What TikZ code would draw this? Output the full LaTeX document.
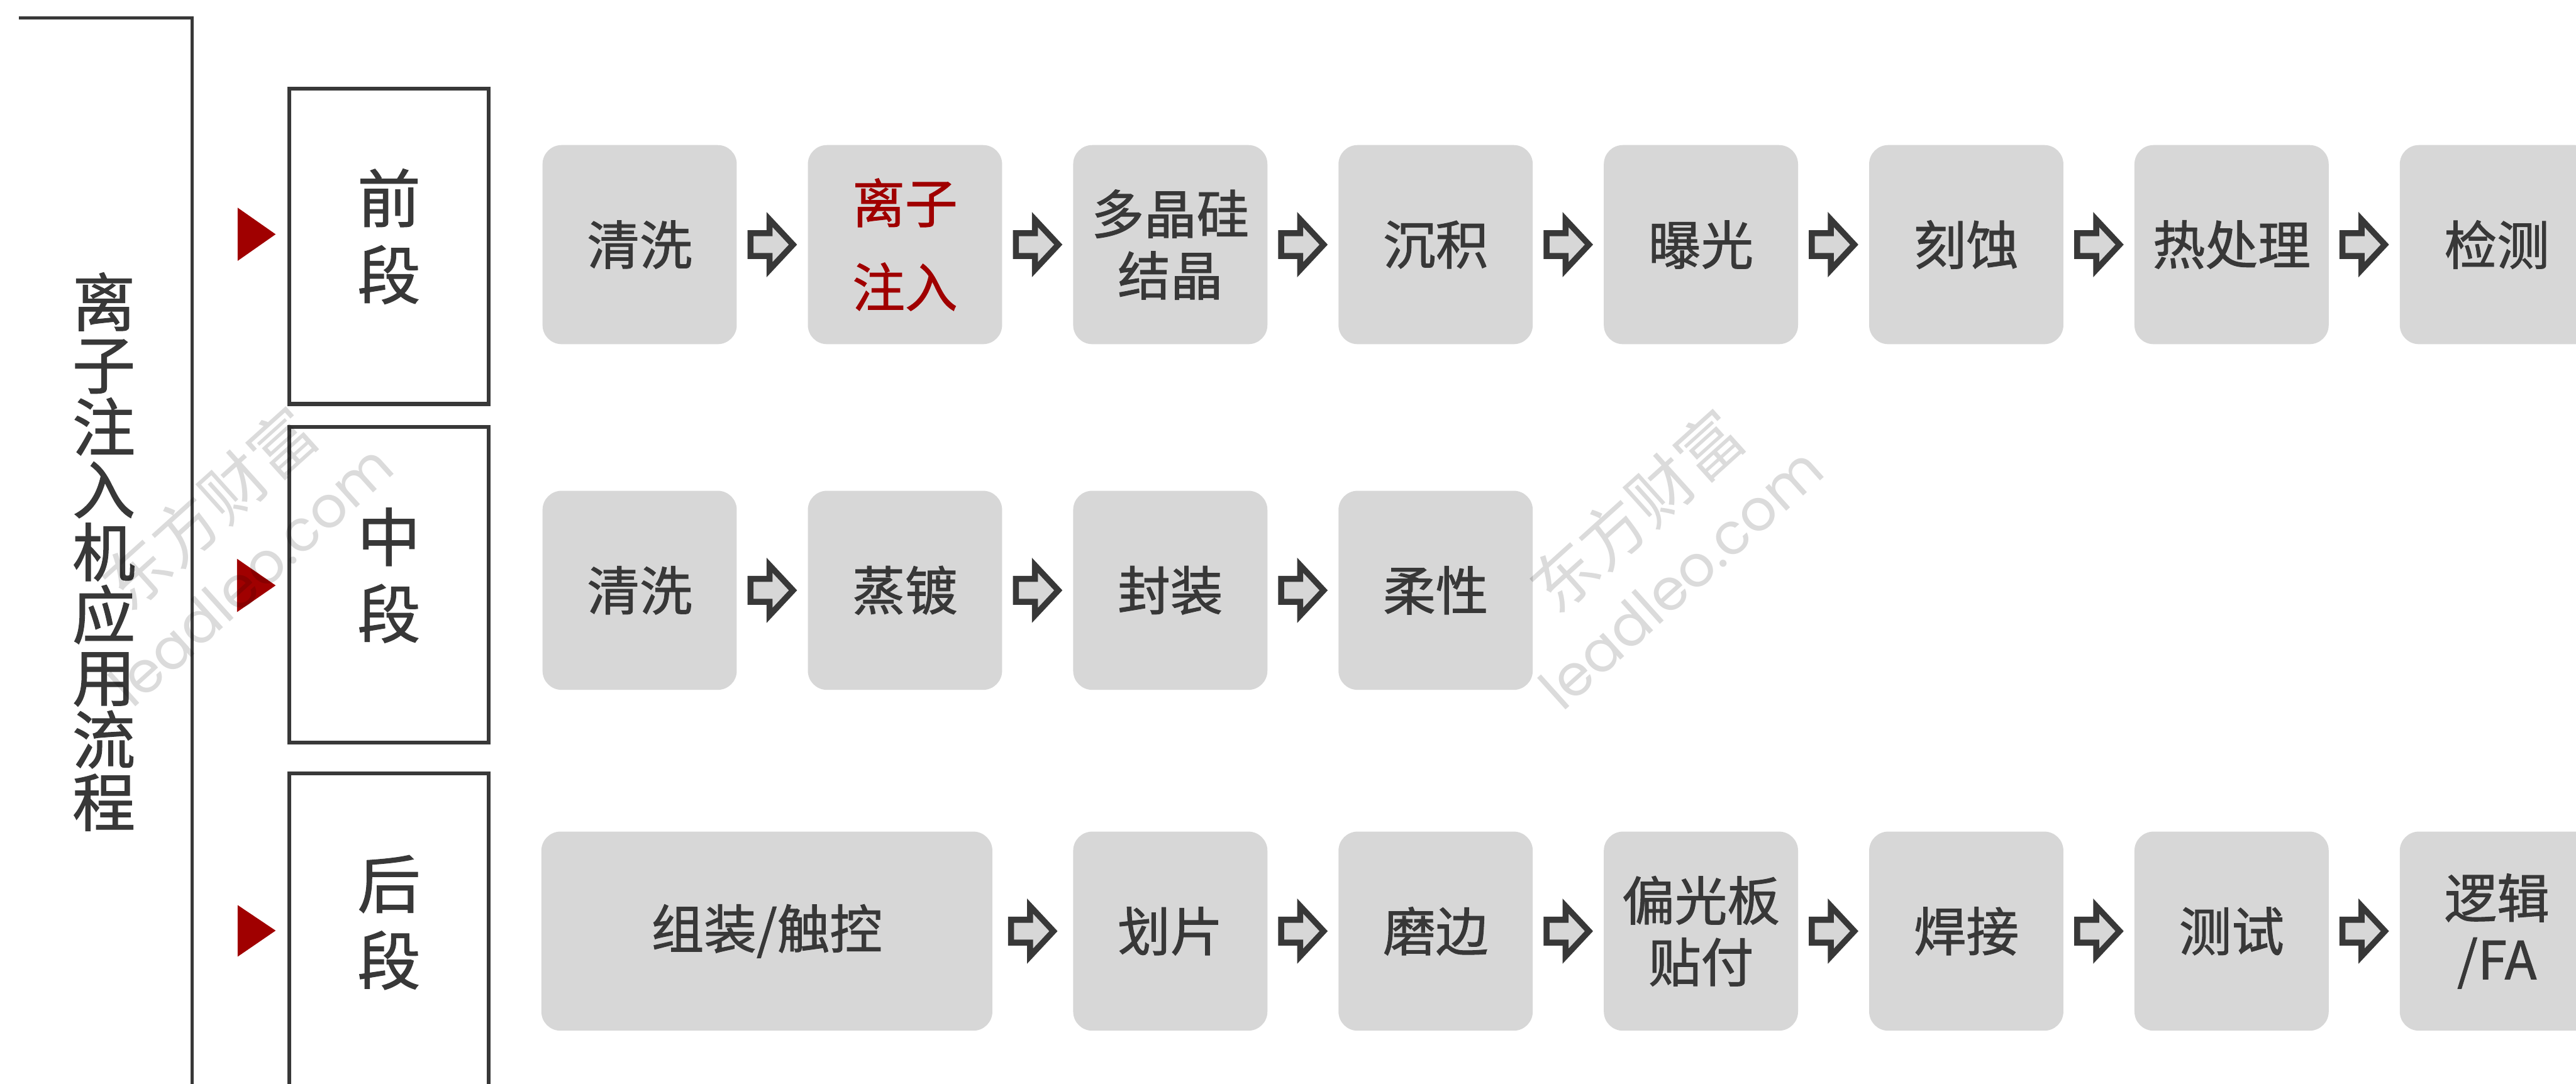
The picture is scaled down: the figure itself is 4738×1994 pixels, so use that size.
\documentclass[tikz,border=0pt]{standalone}
\usepackage{fontspec}
\setmainfont{Noto Sans CJK SC}[FakeBold=1.2]
\newfontfamily\wmcjk{Noto Sans CJK SC}
\newfontfamily\wmlatin{Poppins}
\usetikzlibrary{calc}
\definecolor{txt}{HTML}{383838}
\definecolor{boxfill}{HTML}{D7D7D7}
\definecolor{accent}{HTML}{A00000}
\newcommand\blkarrow[2]{%
  \coordinate (m-#1-#2) at ($(#1.east)!0.5!(#2.west)$);
  \draw[blockarrow] ($(m-#1-#2)+(-40,-21)$) -- ($(m-#1-#2)+(-5,-21)$) -- ($(m-#1-#2)+(-5,-46)$) -- ($(m-#1-#2)+(38,0)$) -- ($(m-#1-#2)+(-5,46)$) -- ($(m-#1-#2)+(-5,21)$) -- ($(m-#1-#2)+(-40,21)$) -- cycle;}
\begin{document}
\begin{tikzpicture}[x=0.01cm,y=-0.01cm,
  proc/.style={fill=boxfill, rounded corners=0.35cm, minimum width=3.57cm, minimum height=3.66cm, inner sep=0pt, text=txt, align=center, font=\fontsize{27.5pt}{32.2pt}\selectfont},
  stagebox/.style={draw=txt, line width=0.07cm, minimum width=3.67cm, minimum height=5.8cm, inner sep=0pt},
  stagetext/.style={text=txt, align=center, font=\fontsize{33pt}{40.1pt}\selectfont, inner sep=0pt},
  blockarrow/.style={draw=txt, fill=boxfill, line width=0.11cm, line join=miter},
  marker/.style={fill=accent},
  wm/.style={text=black, text opacity=0.14, rotate=42, inner sep=0pt}
]
\fill[white] (0,0) rectangle (4738,1994);
\useasboundingbox (0,0) rectangle (4738,1994);
\clip (0,0) rectangle (4738,1994);

% left bracket and title
\draw[txt, line width=0.06cm] (35,33) -- (353,33) -- (353,2010);
\node[text=txt, align=center, inner sep=0pt, font=\fontsize{33pt}{32.7pt}\selectfont] (title) at (191,1015) {离\\子\\注\\入\\机\\应\\用\\流\\程};

% red markers
\fill[marker] (437,382) -- (437,480) -- (507,431) -- cycle;
\fill[marker] (436,1028) -- (436,1126) -- (507,1077) -- cycle;
\fill[marker] (437,1665) -- (437,1760) -- (507,1712) -- cycle;

% stage boxes
\node[stagebox] (s1) at (715.5,453) {};
\node[stagebox] (s2) at (715.5,1075.5) {};
\node[stagebox] (s3) at (715.5,1713) {};
\node[stagetext] (st1) at ($(s1.center)+(0,-18)$) {前\\段};
\node[stagetext] (st2) at ($(s2.center)+(0,-17)$) {中\\段};
\node[stagetext] (st3) at ($(s3.center)+(0,-16)$) {后\\段};

% row 1
\node[proc] (a1) at (1176.5,450) {清洗};
\node[proc, text=accent, font=\fontsize{27.5pt}{44pt}\selectfont] (a2) at (1664.5,450) {离子\\注入};
\node[proc] (a3) at (2152.5,450) {多晶硅\\结晶};
\node[proc] (a4) at (2640.5,450) {沉积};
\node[proc] (a5) at (3128.5,450) {曝光};
\node[proc] (a6) at (3616.5,450) {刻蚀};
\node[proc] (a7) at (4104.5,450) {热处理};
\node[proc] (a8) at (4592.5,450) {检测};
\blkarrow{a1}{a2}\blkarrow{a2}{a3}\blkarrow{a3}{a4}\blkarrow{a4}{a5}
\blkarrow{a5}{a6}\blkarrow{a6}{a7}\blkarrow{a7}{a8}

% row 2
\node[proc] (b1) at (1176.5,1086) {清洗};
\node[proc] (b2) at (1664.5,1086) {蒸镀};
\node[proc] (b3) at (2152.5,1086) {封装};
\node[proc] (b4) at (2640.5,1086) {柔性};
\blkarrow{b1}{b2}\blkarrow{b2}{b3}\blkarrow{b3}{b4}

% row 3
\node[proc, minimum width=8.29cm] (c1) at (1410.5,1713) {组装/触控};
\node[proc] (c3) at (2152.5,1713) {划片};
\node[proc] (c4) at (2640.5,1713) {磨边};
\node[proc] (c5) at (3128.5,1713) {偏光板\\贴付};
\node[proc] (c6) at (3616.5,1713) {焊接};
\node[proc] (c7) at (4104.5,1713) {测试};
\node[proc] (c8) at (4592.5,1713) {逻辑\\/FA};
\blkarrow{c1}{c3}\blkarrow{c3}{c4}\blkarrow{c4}{c5}
\blkarrow{c5}{c6}\blkarrow{c6}{c7}\blkarrow{c7}{c8}

% watermarks
\node[wm, font=\wmcjk\fontsize{34pt}{34pt}\selectfont] (wm1a) at (385,935) {东方财富};
\node[wm, font=\wmlatin\fontsize{30pt}{30pt}\selectfont] (wm1b) at (461,1058) {leadleo.com};
\node[wm, font=\wmcjk\fontsize{34pt}{34pt}\selectfont] (wm2a) at (3010,940) {东方财富};
\node[wm, font=\wmlatin\fontsize{30pt}{30pt}\selectfont] (wm2b) at (3091,1063) {leadleo.com};
\end{tikzpicture}
\end{document}
